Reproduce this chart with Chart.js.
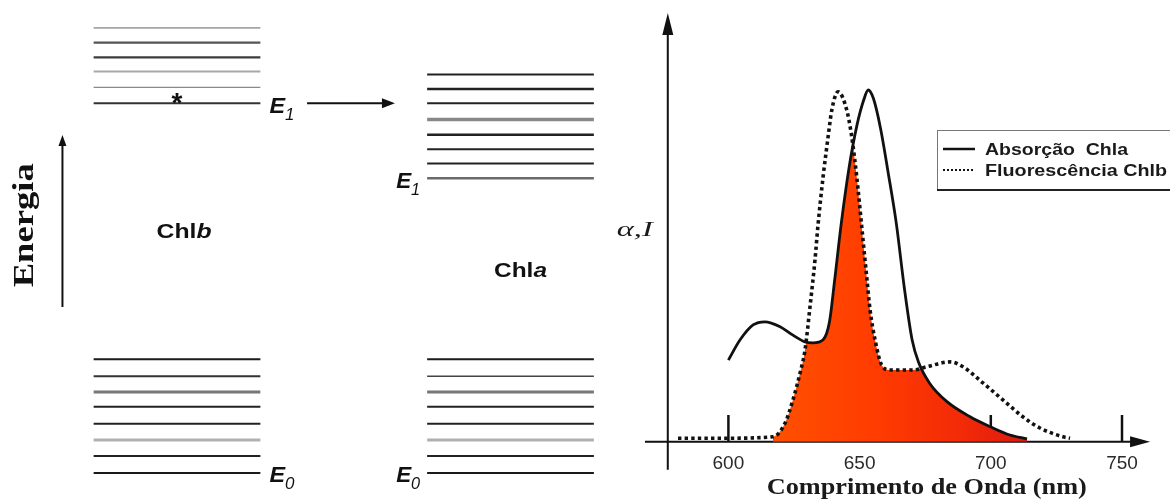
<!DOCTYPE html>
<html><head><meta charset="utf-8">
<script src="https://cdn.jsdelivr.net/npm/chart.js@4.4.1/dist/chart.umd.min.js"></script>
<style>html,body{margin:0;padding:0;background:#fff;}canvas{display:block;}</style>
</head><body>
<canvas id="c" width="1170" height="499"></canvas>
<script>
// ---------------- DATA ----------------
const wavelengthTicks = [600, 650, 700, 750];

const absorptionWavelength = [600, 604.4, 609.4, 613.9, 619.7, 624.6, 629.2, 632.2, 636.1, 638.5, 640.5, 643, 646, 649, 651.5, 653.3, 655.3, 658, 661, 664, 667, 670, 672.5, 676.8, 683.3, 692.1, 699.7, 707.3, 713.8];
const absorptionValue      = [0.232, 0.289, 0.332, 0.341, 0.327, 0.303, 0.284, 0.281, 0.290, 0.34, 0.46, 0.62, 0.78, 0.90, 0.97, 1.0, 0.975, 0.89, 0.76, 0.62, 0.44, 0.29, 0.225, 0.165, 0.114, 0.071, 0.043, 0.019, 0.008];

const fluorescenceWavelength = [580.8, 600, 617, 621.6, 624.6, 627.3, 629.2, 631.1, 633, 634.1, 636.1, 638, 639.4, 641.8, 645.1, 647, 648.9, 650.8, 652.7, 654, 655.9, 658.4, 661.6, 670.4, 675.6, 684.5, 689.4, 697, 704.6, 712.2, 718.7, 727.5, 730.2];
const fluorescenceValue      = [0.01, 0.01, 0.014, 0.053, 0.119, 0.195, 0.261, 0.384, 0.517, 0.612, 0.754, 0.867, 0.943, 0.995, 0.943, 0.867, 0.754, 0.612, 0.469, 0.374, 0.289, 0.218, 0.204, 0.204, 0.213, 0.227, 0.213, 0.167, 0.119, 0.071, 0.039, 0.014, 0.01];

const legendLabels = ['Absorção  Chla', 'Fluorescência Chlb'];

// energy levels (arbitrary units, bottom to top)
const chlbGroundLevels  = [0, 0.46, 0.89, 1.33, 1.79, 2.19, 2.62, 3.08];
const chlbExcitedLevels = [10.0, 10.43, 10.86, 11.24, 11.64, 12.04];
const chlaGroundLevels  = [0, 0.46, 0.89, 1.33, 1.79, 2.19, 2.62, 3.08];
const chlaExcitedLevels = [7.97, 8.37, 8.76, 9.15, 9.56, 10.0, 10.39, 10.78];

// ---------------- STYLES ----------------
const chlbGroundStyle  = [['#1a1a1a',2],['#222',2],['#b0b0b0',3],['#222',2],['#222',2],['#777',3],['#333',2],['#1a1a1a',2]];
const chlbExcitedStyle = [['#333',2],['#8a8a8a',1.3],['#a8a8a8',2],['#3c3c3c',2.2],['#555',2.4],['#a5a5a5',1.8]];
const chlaGroundStyle  = [['#1a1a1a',2],['#222',2],['#b0b0b0',3],['#222',2],['#222',2],['#777',3],['#444',1.5],['#1a1a1a',2]];
const chlaExcitedStyle = [['#6a6a6a',2.5],['#222',2],['#222',2],['#222',2.5],['#888',3.5],['#222',2],['#222',2.5],['#222',2]];
const chlbCenter = 1, chlaCenter = 3, levelHalf = 0.5;

function levelDatasets(levels, center, styles) {
  return levels.map((e, i) => ({
    data: [{x: center - levelHalf, y: e}, {x: center + levelHalf, y: e}],
    xAxisID: 'xD', yAxisID: 'yE', showLine: true,
    borderColor: styles[i][0], borderWidth: styles[i][1], pointRadius: 0, borderCapStyle: 'butt'
  }));
}
function pairs(xs, ys) { return xs.map((x, i) => ({x, y: ys[i]})); }

const datasets = [
  ...levelDatasets(chlbGroundLevels, chlbCenter, chlbGroundStyle),
  ...levelDatasets(chlbExcitedLevels, chlbCenter, chlbExcitedStyle),
  ...levelDatasets(chlaGroundLevels, chlaCenter, chlaGroundStyle),
  ...levelDatasets(chlaExcitedLevels, chlaCenter, chlaExcitedStyle),
  { label: legendLabels[0], data: pairs(absorptionWavelength, absorptionValue), showLine: true,
    borderColor: '#111', borderWidth: 2.8, pointRadius: 0, cubicInterpolationMode: 'monotone', xAxisID: 'x', yAxisID: 'y' },
  { label: legendLabels[1], data: pairs(fluorescenceWavelength, fluorescenceValue), showLine: true,
    borderColor: '#111', borderWidth: 3.6, borderDash: [3.4, 3.2], borderCapStyle: 'butt', pointRadius: 0,
    cubicInterpolationMode: 'monotone', xAxisID: 'x', yAxisID: 'y' }
];
const absIndex = datasets.length - 2, fluIndex = datasets.length - 1;

// ---------------- HELPERS ----------------
function arrowHead(ctx, tx, ty, dx, dy, len, half) {
  const bx = tx - dx * len, by = ty - dy * len;
  ctx.beginPath(); ctx.moveTo(tx, ty);
  ctx.lineTo(bx - dy * half, by + dx * half);
  ctx.lineTo(bx + dy * half, by - dx * half);
  ctx.closePath(); ctx.fill();
}
function textRuns(ctx, parts, x, y, align, width, rot) {
  ctx.save();
  let total = 0;
  parts.forEach(p => { ctx.font = p.f; p.w = ctx.measureText(p.t).width; total += p.w; });
  const s = width ? width / total : 1;
  ctx.translate(x, y); if (rot) ctx.rotate(rot); ctx.scale(s, 1);
  let cx = align === 'center' ? -total / 2 : align === 'right' ? -total : 0;
  ctx.textAlign = 'left'; ctx.textBaseline = 'alphabetic';
  parts.forEach(p => { ctx.font = p.f; ctx.fillText(p.t, cx, p.dy || 0); cx += p.w; });
  ctx.restore();
}
function tracePath(ctx, line, chart) {
  line.updateControlPoints(chart.chartArea, 'x');
  const pts = line.points;
  if (typeof line.path === 'function') { line.path(ctx); }
  else {
    ctx.moveTo(pts[0].x, pts[0].y);
    for (let i = 1; i < pts.length; i++) {
      const a = pts[i - 1], b = pts[i];
      if (a.cp2x !== undefined) ctx.bezierCurveTo(a.cp2x, a.cp2y, b.cp1x, b.cp1y, b.x, b.y);
      else ctx.lineTo(b.x, b.y);
    }
  }
  return pts;
}

const sans = '"Liberation Sans", Arial, sans-serif';
const serif = '"Liberation Serif", "Times New Roman", serif';

const decor = {
  id: 'decor',
  beforeDatasetsDraw(chart) {
    const ctx = chart.ctx, X = chart.scales.x, Y = chart.scales.y;
    const y0 = Y.getPixelForValue(0);
    ctx.save();
    ctx.strokeStyle = '#111'; ctx.fillStyle = '#111'; ctx.lineWidth = 2;
    // y axis
    const ax = X.getPixelForValue(576.9);
    const yTop = Y.getPixelForValue(1.219), yBot = Y.getPixelForValue(-0.08);
    ctx.beginPath(); ctx.moveTo(ax, yBot); ctx.lineTo(ax, yTop + 10); ctx.stroke();
    arrowHead(ctx, ax, yTop, 0, -1, 22, 5.5);
    // x axis
    const xL = X.getPixelForValue(568.2), xR = X.getPixelForValue(760.7);
    ctx.beginPath(); ctx.moveTo(xL, y0); ctx.lineTo(xR - 10, y0); ctx.stroke();
    arrowHead(ctx, xR, y0, 1, 0, 20, 5.5);
    // tick marks
    ctx.lineWidth = 2.5;
    wavelengthTicks.forEach(t => {
      const tx = X.getPixelForValue(t);
      ctx.beginPath(); ctx.moveTo(tx, y0); ctx.lineTo(tx, Y.getPixelForValue(0.076)); ctx.stroke();
    });
    ctx.restore();

    // overlap fill (under both curves)
    const absLine = chart.getDatasetMeta(absIndex).dataset;
    const fluLine = chart.getDatasetMeta(fluIndex).dataset;
    ctx.save();
    const fx = X.getPixelForValue(617);
    ctx.beginPath(); ctx.rect(fx, 0, chart.width - fx, chart.height); ctx.clip();
    ctx.beginPath();
    let p = tracePath(ctx, absLine, chart);
    ctx.lineTo(p[p.length - 1].x, y0); ctx.lineTo(p[0].x, y0); ctx.closePath();
    ctx.clip();
    ctx.beginPath();
    p = tracePath(ctx, fluLine, chart);
    ctx.lineTo(p[p.length - 1].x, y0); ctx.lineTo(p[0].x, y0); ctx.closePath();
    const g = ctx.createLinearGradient(X.getPixelForValue(617), 0, X.getPixelForValue(714), 0);
    g.addColorStop(0, '#ff5000'); g.addColorStop(0.4, '#ff3c00');
    g.addColorStop(0.75, '#f22a08'); g.addColorStop(1, '#dc1a10');
    ctx.fillStyle = g; ctx.fill();
    ctx.restore();
  },
  afterDatasetsDraw(chart) {
    const ctx = chart.ctx, X = chart.scales.x, Y = chart.scales.y;
    const XD = chart.scales.xD, YE = chart.scales.yE;
    const y0 = Y.getPixelForValue(0);
    ctx.save();
    // tick labels
    ctx.fillStyle = '#2a2a2a';
    wavelengthTicks.forEach(t => textRuns(ctx, [{t: String(t), f: '19px ' + sans}], X.getPixelForValue(t), y0 + 27, 'center'));
    // axis titles
    ctx.fillStyle = '#1a1a1a';
    textRuns(ctx, [{t: 'Comprimento de Onda (nm)', f: 'bold 24px ' + serif}], X.getPixelForValue(675.6), y0 + 52, 'center', 320);
    textRuns(ctx, [{t: 'α,', f: 'italic 22px ' + serif}, {t: 'I', f: 'italic 22px ' + serif}], X.getPixelForValue(576.9) - 33, Y.getPixelForValue(0.586), 'center', 36);

    // legend
    ctx.strokeStyle = '#777'; ctx.lineWidth = 1;
    ctx.strokeRect(937.5, 130.5, 260, 59);
    ctx.strokeStyle = '#222'; ctx.lineWidth = 2;
    ctx.beginPath(); ctx.moveTo(937, 190); ctx.lineTo(1170, 190); ctx.stroke();
    ctx.lineWidth = 2.5; ctx.strokeStyle = '#111';
    ctx.beginPath(); ctx.moveTo(943, 149); ctx.lineTo(975, 149); ctx.stroke();
    ctx.lineWidth = 2; ctx.setLineDash([2, 2]);
    ctx.beginPath(); ctx.moveTo(943, 170); ctx.lineTo(975, 170); ctx.stroke();
    ctx.setLineDash([]);
    ctx.fillStyle = '#1a1a1a';
    textRuns(ctx, [{t: legendLabels[0], f: 'bold 17px ' + sans}], 985, 155, 'left', 143);
    textRuns(ctx, [{t: legendLabels[1], f: 'bold 17px ' + sans}], 985, 176, 'left', 182);

    // ---- left diagram ----
    ctx.fillStyle = '#111'; ctx.strokeStyle = '#111'; ctx.lineWidth = 2;
    // energy arrow
    const ex = XD.getPixelForValue(0.313);
    const eb = YE.getPixelForValue(4.49), et = YE.getPixelForValue(9.14);
    ctx.beginPath(); ctx.moveTo(ex, eb); ctx.lineTo(ex, et + 6); ctx.stroke();
    arrowHead(ctx, ex, et, 0, -1, 11, 4);
    textRuns(ctx, [{t: 'Energia', f: 'bold 29px ' + serif}], 33, YE.getPixelForValue(6.7), 'center', 124, -Math.PI / 2);

    // transfer arrow
    const ty = YE.getPixelForValue(chlbExcitedLevels[0]);
    const tx1 = XD.getPixelForValue(1.78), tx2 = XD.getPixelForValue(2.307);
    ctx.beginPath(); ctx.moveTo(tx1, ty); ctx.lineTo(tx2 - 8, ty); ctx.stroke();
    arrowHead(ctx, tx2, ty, 1, 0, 13, 5);

    // star
    textRuns(ctx, [{t: '*', f: 'bold 28px ' + sans}], XD.getPixelForValue(chlbCenter), YE.getPixelForValue(chlbExcitedLevels[0]) + 9, 'center');

    // E labels
    const eRuns = (sub) => [{t: 'E', f: 'bold italic 22px ' + sans}, {t: sub, f: 'italic 16px ' + sans, dy: 7}];
    const bRight = XD.getPixelForValue(chlbCenter + levelHalf) + 9;
    const aLeft = XD.getPixelForValue(chlaCenter - levelHalf) - 7;
    textRuns(ctx, eRuns('1'), bRight, YE.getPixelForValue(chlbExcitedLevels[0]) + 9.5, 'left', 25);
    textRuns(ctx, eRuns('0'), bRight, YE.getPixelForValue(chlbGroundLevels[0]) + 8.5, 'left', 25);
    textRuns(ctx, eRuns('1'), aLeft, YE.getPixelForValue(chlaExcitedLevels[0]) + 9.5, 'right', 24);
    textRuns(ctx, eRuns('0'), aLeft, YE.getPixelForValue(chlaGroundLevels[0]) + 8.5, 'right', 24);

    // molecule names
    textRuns(ctx, [{t: 'Chl', f: 'bold 21px ' + sans}, {t: 'b', f: 'bold italic 21px ' + sans}], XD.getPixelForValue(chlbCenter) + 7, YE.getPixelForValue(6.356), 'center', 55);
    textRuns(ctx, [{t: 'Chl', f: 'bold 21px ' + sans}, {t: 'a', f: 'bold italic 21px ' + sans}], XD.getPixelForValue(chlaCenter) + 10, YE.getPixelForValue(5.3), 'center', 53);
    ctx.restore();
  }
};

new Chart(document.getElementById('c'), {
  type: 'scatter',
  data: { datasets },
  options: {
    responsive: false, animation: false, devicePixelRatio: 1,
    layout: { padding: 0 },
    elements: { point: { radius: 0 } },
    plugins: { legend: { display: false }, tooltip: { enabled: false } },
    events: [],
    scales: {
      x:  { type: 'linear', axis: 'x', min: 322.41, max: 768.29, display: false, bounds: 'data' },
      y:  { type: 'linear', axis: 'y', min: -0.1629, max: 1.2559, display: false, bounds: 'data' },
      xD: { type: 'linear', axis: 'x', min: -0.0615, max: 6.955, display: false, bounds: 'data' },
      yE: { type: 'linear', axis: 'y', min: -0.703, max: 12.794, display: false, bounds: 'data' }
    }
  },
  plugins: [decor]
});
</script>
</body></html>
